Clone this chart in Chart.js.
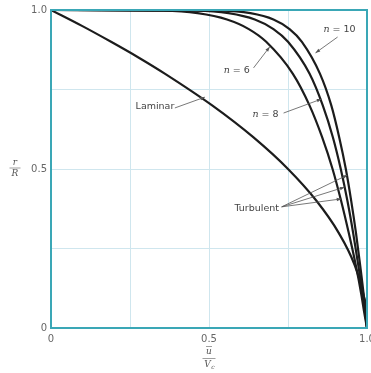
<!DOCTYPE html>
<html lang="en">
<head>
    <meta charset="UTF-8">
    <title>Velocity profiles</title>
    <script src="https://cdn.jsdelivr.net/npm/chart.js"></script>
    <style>
        html, body { margin: 0; padding: 0; background: #fff; overflow: hidden; }
        .chart { position: relative; width: 391px; height: 373px; }
    </style>
</head>
<body>
    <div class="chart">
        <canvas id="profileChart"></canvas>
    </div>

    <script>
        // r/R levels (shared by turbulent curves) and u/Vc
        const rTurb = [1.0, 0.998, 0.99, 0.97, 0.94, 0.9, 0.8, 0.7, 0.6, 0.5, 0.4, 0.3, 0.2, 0.1, 0.05, 0];
        const uN6  = [0, 0.355, 0.464, 0.557, 0.626, 0.681, 0.765, 0.818, 0.858, 0.891, 0.918, 0.942, 0.964, 0.983, 0.991, 1.0];
        const uN8  = [0, 0.460, 0.562, 0.645, 0.704, 0.750, 0.818, 0.860, 0.892, 0.917, 0.938, 0.956, 0.972, 0.987, 0.994, 1.0];
        const uN10 = [0, 0.537, 0.631, 0.704, 0.755, 0.794, 0.851, 0.887, 0.912, 0.933, 0.950, 0.965, 0.978, 0.990, 0.995, 1.0];

        const rLam = [1, 0.95, 0.9, 0.85, 0.8, 0.7, 0.6, 0.5, 0.4, 0.3, 0.2, 0.1, 0.05, 0];
        const uLam = [0, 0.098, 0.19, 0.278, 0.36, 0.51, 0.64, 0.75, 0.84, 0.91, 0.96, 0.99, 0.998, 1.0];

        const xTickLabels = { 0: '0', 0.5: '0.5', 1: '1.0' };
        const yTickLabels = { 0: '0', 0.5: '0.5', 1: '1.0' };

        // annotation labels: [text, u, r] and arrows: [u0, r0, u1, r1]
        const labelTexts = [
            ['n = 10', 0.913, 0.940],
            ['n = 6', 0.588, 0.811],
            ['n = 8', 0.679, 0.670],
            ['Laminar', 0.329, 0.695],
            ['Turbulent', 0.651, 0.377]
        ];
        const arrows = [
            [0.907, 0.915, 0.837, 0.865],
            [0.641, 0.818, 0.692, 0.884],
            [0.736, 0.676, 0.856, 0.720],
            [0.392, 0.692, 0.487, 0.726],
            [0.730, 0.381, 0.938, 0.481],
            [0.730, 0.381, 0.929, 0.443],
            [0.730, 0.381, 0.919, 0.406]
        ];

        const toPoints = (us, rs) => us.map((u, i) => ({ x: u, y: rs[i] }));

        const lineStyle = {
            borderColor: '#1c1c1c',
            borderWidth: 2.2,
            pointRadius: 0,
            fill: false,
            cubicInterpolationMode: 'monotone'
        };

        const teal = '#3aa7b6';

        const decorations = {
            id: 'decorations',
            afterDatasetsDraw(chart) {
                const { ctx, chartArea: a, scales: { x, y } } = chart;
                ctx.save();

                // frame
                ctx.strokeStyle = teal;
                ctx.lineWidth = 2;
                ctx.strokeRect(a.left, a.top, a.right - a.left, a.bottom - a.top);

                // arrows
                ctx.strokeStyle = '#555';
                ctx.fillStyle = '#555';
                ctx.lineWidth = 0.8;
                arrows.forEach(([u0, r0, u1, r1]) => {
                    const x0 = x.getPixelForValue(u0), y0 = y.getPixelForValue(r0);
                    const x1 = x.getPixelForValue(u1), y1 = y.getPixelForValue(r1);
                    const ang = Math.atan2(y1 - y0, x1 - x0);
                    ctx.beginPath();
                    ctx.moveTo(x0, y0);
                    ctx.lineTo(x1, y1);
                    ctx.stroke();
                    ctx.beginPath();
                    ctx.moveTo(x1, y1);
                    ctx.lineTo(x1 - 5 * Math.cos(ang - 0.35), y1 - 5 * Math.sin(ang - 0.35));
                    ctx.lineTo(x1 - 5 * Math.cos(ang + 0.35), y1 - 5 * Math.sin(ang + 0.35));
                    ctx.closePath();
                    ctx.fill();
                });

                // labels
                ctx.fillStyle = '#444';
                ctx.textBaseline = 'middle';
                labelTexts.forEach(([t, u, r]) => {
                    const px = x.getPixelForValue(u), py = y.getPixelForValue(r);
                    if (t.startsWith('n')) {
                        const rest = t.slice(1);
                        ctx.font = '9.5px "DejaVu Sans"';
                        const wRest = ctx.measureText(rest).width;
                        ctx.font = 'italic 9.5px "DejaVu Serif"';
                        const wN = ctx.measureText('n').width;
                        const start = px - (wN + wRest) / 2;
                        ctx.textAlign = 'left';
                        ctx.fillText('n', start, py);
                        ctx.font = '9.5px "DejaVu Sans"';
                        ctx.fillText(rest, start + wN, py);
                    } else {
                        ctx.font = '9.5px "DejaVu Sans"';
                        ctx.textAlign = 'center';
                        ctx.fillText(t, px, py);
                    }
                });

                // axis titles as fractions
                ctx.fillStyle = '#555';
                ctx.strokeStyle = '#777';
                ctx.lineWidth = 0.7;
                ctx.textAlign = 'center';
                ctx.font = 'italic 9px "DejaVu Serif"';
                const yMid = y.getPixelForValue(0.5);
                ctx.fillText('r', 15, yMid - 6);
                ctx.beginPath(); ctx.moveTo(9.5, yMid - 1); ctx.lineTo(20.5, yMid - 1); ctx.stroke();
                ctx.fillText('R', 15, yMid + 5);

                const xMid = x.getPixelForValue(0.5);
                ctx.fillText('u', xMid, 352);
                ctx.beginPath(); ctx.moveTo(xMid - 3, 346.5); ctx.lineTo(xMid + 3, 346.5); ctx.stroke();
                ctx.beginPath(); ctx.moveTo(xMid - 6.5, 358.5); ctx.lineTo(xMid + 6.5, 358.5); ctx.stroke();
                ctx.fillText('V', xMid - 1.5, 365);
                ctx.font = 'italic 6px "DejaVu Serif"';
                ctx.fillText('c', xMid + 4, 367.5);

                ctx.restore();
            }
        };

        const ctx = document.getElementById('profileChart').getContext('2d');
        new Chart(ctx, {
            type: 'line',
            data: {
                datasets: [
                    { label: 'Laminar', data: toPoints(uLam, rLam), ...lineStyle },
                    { label: 'n = 6', data: toPoints(uN6, rTurb), ...lineStyle },
                    { label: 'n = 8', data: toPoints(uN8, rTurb), ...lineStyle },
                    { label: 'n = 10', data: toPoints(uN10, rTurb), ...lineStyle }
                ]
            },
            options: {
                responsive: true,
                maintainAspectRatio: false,
                animation: false,
                layout: { padding: { top: 10, right: 24, left: 0, bottom: 0 } },
                plugins: {
                    legend: { display: false },
                    tooltip: { enabled: false }
                },
                scales: {
                    x: {
                        type: 'linear',
                        min: 0, max: 1,
                        border: { display: false },
                        grid: { color: '#cfe6ee', lineWidth: 1, drawTicks: false },
                        ticks: {
                            stepSize: 0.25,
                            padding: 5,
                            color: '#666',
                            font: { family: 'DejaVu Sans', size: 10 },
                            maxRotation: 0,
                            autoSkip: false,
                            callback: v => xTickLabels[v] ?? ''
                        },
                        afterFit: s => { s.height = 45; }
                    },
                    y: {
                        type: 'linear',
                        min: 0, max: 1,
                        border: { display: false },
                        grid: { color: '#cfe6ee', lineWidth: 1, drawTicks: false },
                        ticks: {
                            stepSize: 0.25,
                            padding: 4,
                            color: '#666',
                            font: { family: 'DejaVu Sans', size: 10 },
                            autoSkip: false,
                            callback: v => yTickLabels[v] ?? ''
                        },
                        afterFit: s => { s.width = 51; }
                    }
                }
            },
            plugins: [decorations]
        });
    </script>
</body>
</html>
